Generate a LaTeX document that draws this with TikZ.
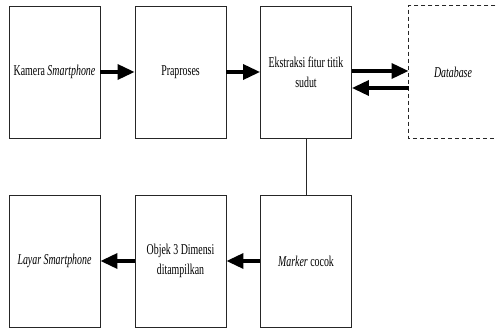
\documentclass[tikz,border=0pt]{standalone}
\usepackage{fontspec}
\setmainfont{Liberation Serif}[FakeStretch=0.66]
\usetikzlibrary{arrows.meta}
\begin{document}
\begin{tikzpicture}[x=1pt,y=1pt,
  box/.style={draw=black!85,line width=0.9pt,minimum width=91pt,minimum height=132pt,inner sep=0pt,align=center,font=\fontsize{15}{20}\selectfont},
  flow/.style={line width=3.4pt,-{Triangle[length=17pt,width=15pt]}},
  link/.style={line width=0.8pt,draw=black!85}]
\useasboundingbox (0,0) rectangle (497,329);
\clip (0,0) rectangle (497,329);
% top row (image y 6..138) -> tikz y 323..191, center 257
\node[box] (cam) at (54.5,257) {Kamera \textit{Smartphone}};
\node[box] (pra) at (180.5,257) {Praproses};
\node[box] (eks) at (306,257) {Ekstraksi fitur titik\\sudut};
\node[box,draw=none,minimum width=88pt] (db) at (453,257) {\textit{Database}};
\draw[link,dashed,dash pattern=on 4pt off 3pt] ([xshift=12pt]db.north east) -- (db.north west) -- (db.south west) -- ([xshift=12pt]db.south east);
% bottom row (image y 195..327) -> tikz y 134..2, center 68
\node[box] (lay) at (54.5,68) {\textit{Layar Smartphone}};
\node[box] (obj) at (180.5,68) {Objek 3 Dimensi\\ditampilkan};
\node[box] (mar) at (306,68) {\textit{Marker} cocok};
% connectors
\draw[flow] (cam) -- (pra);
\draw[flow] (pra) -- (eks);
\draw[flow] ([yshift=1pt]eks.east) -- ([yshift=1pt]db.west);
\draw[flow] ([yshift=-16pt]db.west) -- ([yshift=-16pt]eks.east);
\draw[link] (eks) -- (mar);
\draw[flow] (mar) -- (obj);
\draw[flow] (obj) -- (lay);
\end{tikzpicture}
\end{document}
